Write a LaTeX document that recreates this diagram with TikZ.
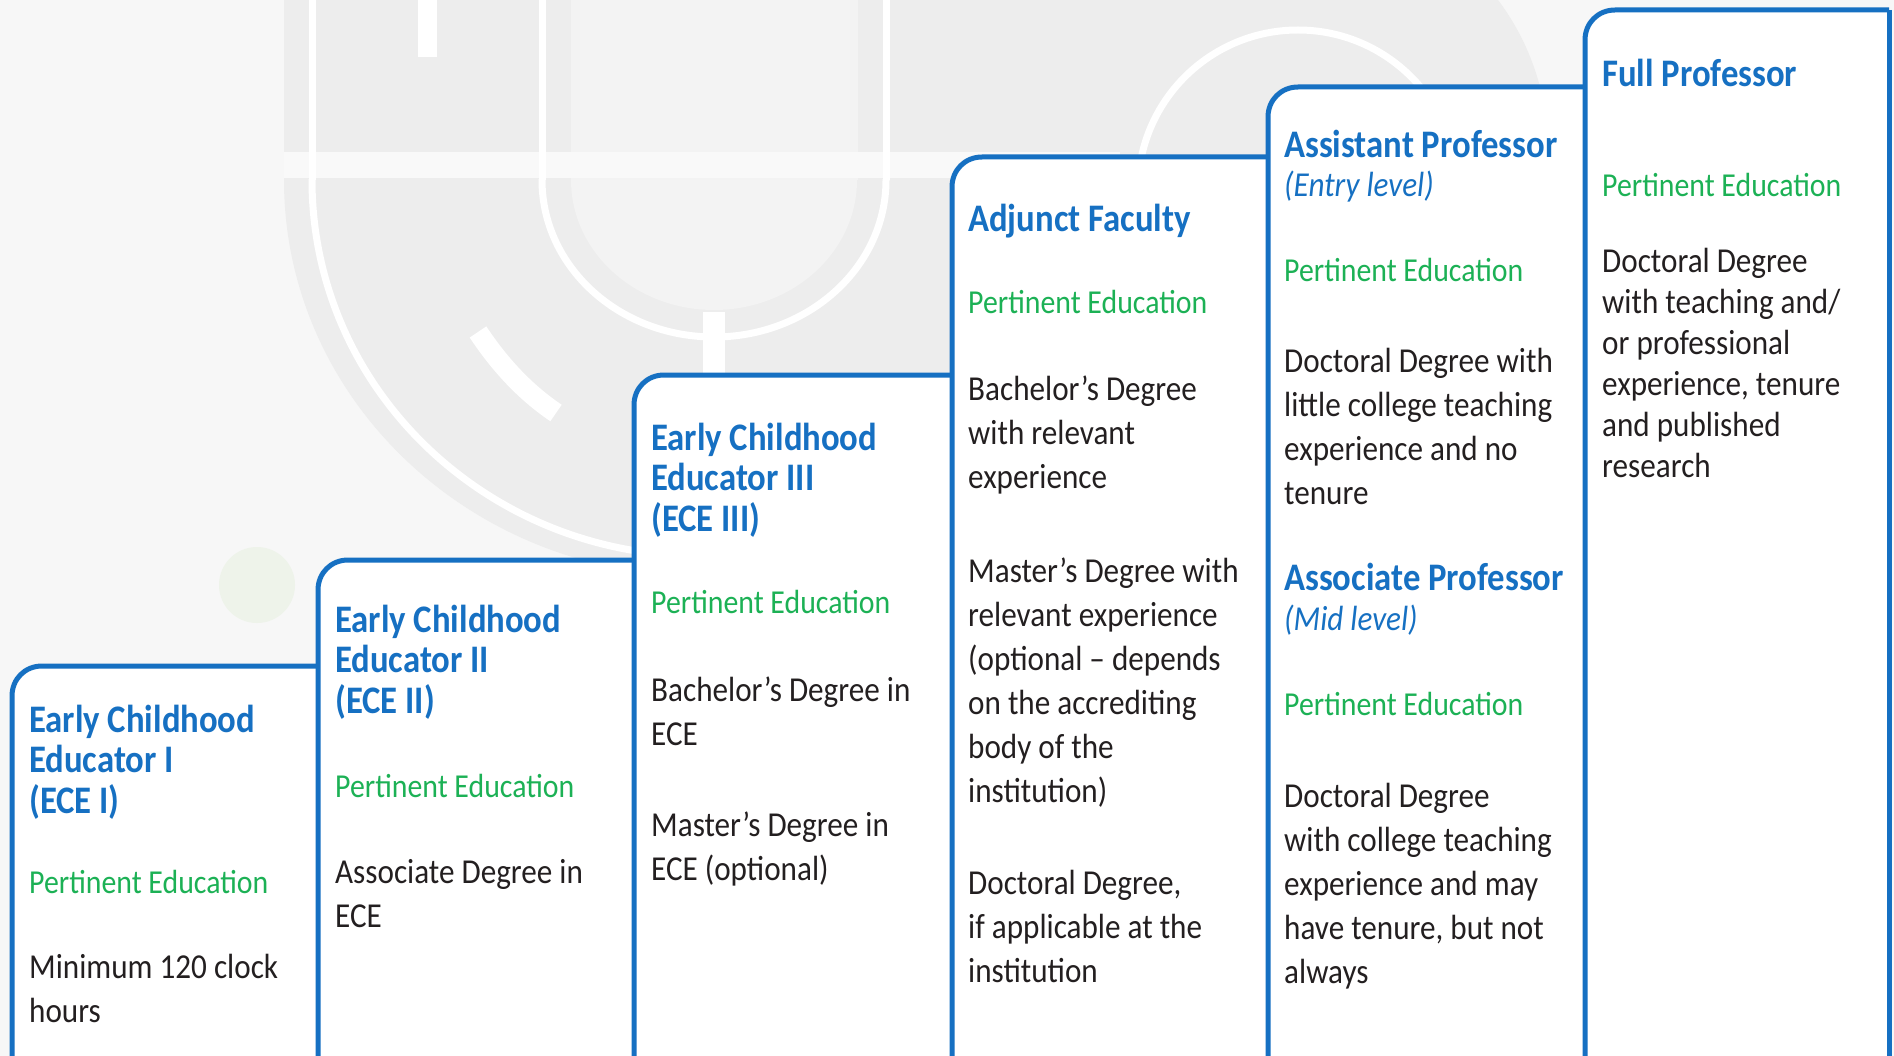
\documentclass[tikz,border=0pt]{standalone}
\usepackage{fontspec}
\setmainfont{Carlito}[FakeStretch=0.89]
\definecolor{stepblue}{HTML}{1670C2}
\definecolor{stepgreen}{HTML}{1CB155}
\definecolor{bodytext}{HTML}{231F20}
\definecolor{paper}{HTML}{F7F7F7}
\definecolor{markgray}{HTML}{EDEDED}
\definecolor{softgreen}{HTML}{EEF3EA}
\newcommand*{\DrawSteps}[1]{% #1 = list of left/top/right
  \foreach \lx/\ty/\rx in {#1} {
    \fill[white] (\lx,1070) -- (\lx,\ty+30) .. controls (\lx,\ty+13) and (\lx+13,\ty) .. (\lx+30,\ty)
      -- (\rx,\ty) -- (\rx,1070) -- cycle;
    \draw[stepline] (\lx,1070) -- (\lx,\ty+30) .. controls (\lx,\ty+13) and (\lx+13,\ty) .. (\lx+30,\ty)
      -- (\rx,\ty);
    }%
}

\begin{document}
\begin{tikzpicture}[x=1pt,y=-1pt,
    stepline/.style={draw=stepblue,line width=5pt},
    markline/.style={draw=white,line width=7pt},
    steptitle/.style={anchor=base west,align=left,inner sep=0pt,text=stepblue,
      font=\fontsize{39}{40.5}\selectfont\bfseries},
    levelnote/.style={anchor=base west,inner sep=0pt,text=stepblue,
      font=\fontsize{35}{40}\selectfont\itshape},
    pertinent/.style={anchor=base west,inner sep=0pt,text=stepgreen,
      font=\fontsize{33.5}{44}\selectfont},
    stepbody/.style={anchor=base west,align=left,inner sep=0pt,text=bodytext,
      font=\fontsize{35}{44}\selectfont}]
  \useasboundingbox (0,0) rectangle (1894,1056);
  % faint emblem behind the steps
  \fill[paper] (0,0) rectangle (1894,1056);
  \fill[markgray] (284,0) rectangle (1120,180);
  \fill[markgray] (700,180) ellipse [x radius=416, y radius=396];
  \fill[markgray] (1298,150) circle [radius=250];
  \fill[markgray!45!paper] (571,0) rectangle (858,180);
  \fill[markgray!45!paper] (714,180) ellipse [x radius=143, y radius=130];
  \fill[paper!70!white] (284,152) rectangle (1120,178);
  \draw[markline] (312,0) -- (312,180);
  \draw[markline] (542,0) -- (542,180) (886,0) -- (886,180);
  \begin{scope}
    \clip (0,180) rectangle (1894,1056);
    \draw[markline] (700,180) ellipse [x radius=388, y radius=376];
    \draw[markline] (714,180) ellipse [x radius=172, y radius=157];
  \end{scope}
  \draw[markline,line width=22pt] (714,312) -- (714,376);
  \draw[markline] (1298,190) circle [radius=160];
  \fill[white] (418,0) rectangle (437,57);
  \draw[markline,line width=20pt] (478,332) .. controls (500,365) and (525,392) .. (556,413);
  \fill[softgreen] (257,585) circle [radius=38];

  % the six steps
  \DrawSteps{12/666/318, 318/560/634, 634/375/952, 952/157/1268, 1268/87/1585, 1585/10/1889}
  \draw[stepline] (1889,10) -- (1889,1070);

  % step 1 (node positions are last-line baselines)
  \node[steptitle] (ece1) at (29,813) {Early Childhood\\Educator I\\(ECE I)};
  \node[pertinent] (ece1pe) at (29,893) {Pertinent Education};
  \node[stepbody] (ece1req) at (29,1022) {Minimum 120 clock\\hours};
  % step 2
  \node[steptitle] (ece2) at (335,713) {Early Childhood\\Educator II\\(ECE II)};
  \node[pertinent] (ece2pe) at (335,797) {Pertinent Education};
  \node[stepbody] (ece2req) at (335,927) {Associate Degree in\\ECE};
  % step 3
  \node[steptitle] (ece3) at (651,531) {Early Childhood\\Educator III\\(ECE III)};
  \node[pertinent] (ece3pe) at (651,613) {Pertinent Education};
  \node[stepbody] (ece3req) at (651,745) {Bachelor’s Degree in\\ECE};
  \node[stepbody] (ece3opt) at (651,880) {Master’s Degree in\\ECE (optional)};
  % step 4
  \node[steptitle] (adj) at (968,232) {Adjunct Faculty};
  \node[pertinent] (adjpe) at (968,313) {Pertinent Education};
  \node[stepbody] (adjba) at (968,488) {Bachelor’s Degree\\with relevant\\experience};
  \node[stepbody] (adjma) at (968,802) {Master’s Degree with\\relevant experience\\(optional -- depends\\on the accrediting\\body of the\\institution)};
  \node[stepbody] (adjdr) at (968,982) {Doctoral Degree,\\if applicable at the\\institution};
  % step 5
  \node[steptitle] (asst) at (1284,158) {Assistant Professor};
  \node[levelnote] (asstlvl) at (1284,197) {(Entry level)};
  \node[pertinent] (asstpe) at (1284,282) {Pertinent Education};
  \node[stepbody] (asstreq) at (1284,504) {Doctoral Degree with\\little college teaching\\experience and no\\tenure};
  \node[steptitle] (assoc) at (1284,590) {Associate Professor};
  \node[levelnote] (assoclvl) at (1284,630) {(Mid level)};
  \node[pertinent] (assocpe) at (1284,715) {Pertinent Education};
  \node[stepbody] (assocreq) at (1284,983) {Doctoral Degree\\with college teaching\\experience and may\\have tenure, but not\\always};
  % step 6
  \node[steptitle] (full) at (1602,87) {Full Professor};
  \node[pertinent] (fullpe) at (1602,197) {Pertinent Education};
  \node[stepbody,font=\fontsize{35}{41}\selectfont] (fullreq) at (1602,477) {Doctoral Degree\\with teaching and/\\or professional\\experience, tenure\\and published\\research};
\end{tikzpicture}
\end{document}
